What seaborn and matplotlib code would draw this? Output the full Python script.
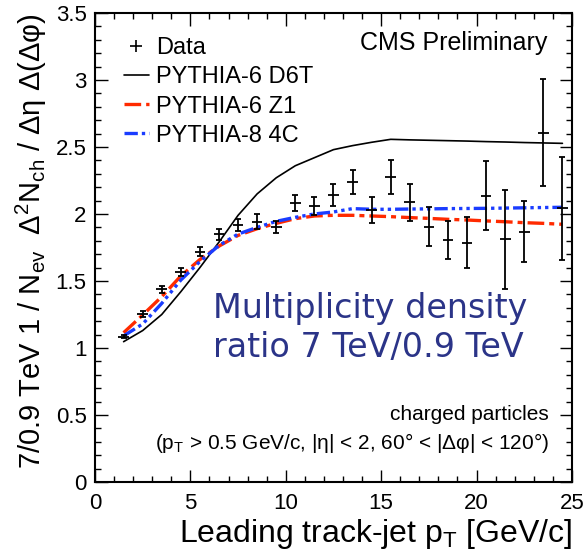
import numpy as np
import pandas as pd
import seaborn as sns
import matplotlib.pyplot as plt
from matplotlib.lines import Line2D
from matplotlib.ticker import MultipleLocator

# leading track-jet pT bin centres [GeV/c]
pt = [1.5, 2.5, 3.5, 4.5, 5.5, 6.5, 7.5, 8.5, 9.5, 10.5, 11.5, 12.5,
      13.5, 14.5, 15.5, 16.5, 17.5, 18.5, 19.5, 20.5, 21.5, 22.5, 23.5, 24.5]

# measured 7/0.9 TeV ratio and its uncertainty
data_y = [1.084, 1.254, 1.438, 1.569, 1.719, 1.848, 1.918, 1.943, 1.900, 2.085,
          2.062, 2.142, 2.241, 2.030, 2.278, 2.087, 1.905, 1.806, 1.786, 2.137,
          1.811, 1.868, 2.607, 2.043]
data_err = [0.01, 0.02, 0.025, 0.03, 0.035, 0.04, 0.045, 0.055, 0.045, 0.06,
            0.066, 0.08, 0.09, 0.10, 0.127, 0.14, 0.145, 0.145, 0.19, 0.26,
            0.37, 0.23, 0.40, 0.385]

# MC tunes
d6t = [1.047, 1.13, 1.25, 1.42, 1.60, 1.79, 1.99, 2.15, 2.27, 2.36, 2.42, 2.48,
       2.51, 2.535, 2.557, 2.553, 2.55, 2.547, 2.544, 2.54, 2.537, 2.533, 2.53, 2.527]
z1 = [1.114, 1.246, 1.383, 1.537, 1.66, 1.76, 1.84, 1.89, 1.93, 1.965, 1.985, 1.99,
      1.99, 1.985, 1.98, 1.973, 1.967, 1.96, 1.955, 1.948, 1.942, 1.935, 1.93, 1.923]
c4 = [1.09, 1.179, 1.333, 1.507, 1.645, 1.765, 1.85, 1.90, 1.945, 1.975, 2.0, 2.015,
      2.04, 2.035, 2.035, 2.037, 2.038, 2.04, 2.041, 2.042, 2.044, 2.046, 2.048, 2.05]

sns.set_style("ticks", {'text.color': 'black', 'axes.labelcolor': 'black',
                        'xtick.color': 'black', 'ytick.color': 'black',
                        'axes.edgecolor': 'black'})
plt.rcParams['font.family'] = ['Liberation Sans', 'DejaVu Sans']
plt.rcParams['mathtext.fontset'] = 'custom'
plt.rcParams['mathtext.rm'] = 'Liberation Sans'
plt.rcParams['mathtext.it'] = 'Liberation Sans:italic'
plt.rcParams['mathtext.bf'] = 'Liberation Sans:bold'

fig = plt.figure(figsize=(5.87, 5.54), dpi=100)
ax = fig.add_axes([0.1618, 0.130, 0.8126, 0.8466])

models = [
    ('PYTHIA-6 D6T', d6t, 'black', '-', 1.2),
    ('PYTHIA-6 Z1', z1, '#ff2a00', (0, (5, 1.5, 1.5, 1.5)), 2.4),
    ('PYTHIA-8 4C', c4, '#1a3cff', (0, (4, 1.2, 1, 1.2, 1, 1.2, 1, 1.2)), 2.4),
]
for name, vals, col, ls, lw in models:
    df = pd.DataFrame({'pt': pt, 'ratio': vals})
    sns.lineplot(data=df, x='pt', y='ratio', ax=ax, color=col, linestyle=ls,
                 linewidth=lw, sort=False, errorbar=None)

# data: vertical bars with small caps, horizontal bars without
ax.errorbar(pt, data_y, yerr=data_err, fmt='none', ecolor='black',
            elinewidth=1.3, capsize=2, capthick=1.3, zorder=5)
ax.errorbar(pt, data_y, xerr=0.28, fmt='none', ecolor='black',
            elinewidth=1.3, capsize=0, zorder=5)

ax.set_xlim(0, 25)
ax.set_ylim(0, 3.5)
ax.xaxis.set_major_locator(MultipleLocator(5))
ax.xaxis.set_minor_locator(MultipleLocator(1))
ax.yaxis.set_major_locator(MultipleLocator(0.5))
ax.yaxis.set_minor_locator(MultipleLocator(0.1))
ax.set_xticks([0, 5, 10, 15, 20, 25])
ax.set_xticklabels(['0', '5', '10', '15', '20', '25'])
ax.set_yticks([0, 0.5, 1, 1.5, 2, 2.5, 3, 3.5])
ax.set_yticklabels(['0', '0.5', '1', '1.5', '2', '2.5', '3', '3.5'])
ax.tick_params(which='both', direction='in', top=True, right=True, labelsize=16)
ax.tick_params(which='major', length=9, width=1)
ax.tick_params(which='minor', length=4.5, width=1)
ax.tick_params(axis='x', pad=8)
ax.tick_params(axis='y', pad=6)
for s in ax.spines.values():
    s.set_linewidth(1.5)

ax.set_xlabel('Leading track-jet p$_{\\rm T}$ [GeV/c]', fontsize=23, loc='right', labelpad=2)
ax.set_ylabel('7/0.9 TeV 1 / N$_{\\rm ev}$  Δ$^{2}$N$_{\\rm ch}$ / Δη Δ(Δφ)',
              fontsize=21, loc='top', labelpad=5)

handles = [Line2D([], [], color='black', marker='+', linestyle='none', markersize=9, markeredgewidth=1.2)]
for name, vals, col, ls, lw in models:
    handles.append(Line2D([], [], color=col, linestyle=ls, linewidth=lw))
ax.legend(handles, ['Data'] + [m[0] for m in models], loc='upper left',
          bbox_to_anchor=(0.041, 0.968), frameon=False, fontsize=17,
          handlelength=1.06, handletextpad=0.3, labelspacing=0.3, borderaxespad=0)

ax.text(0.948, 0.936, 'CMS Preliminary', transform=ax.transAxes, ha='right',
        va='center', fontsize=18)
ax.text(0.247, 0.328, 'Multiplicity density\nratio 7 TeV/0.9 TeV', transform=ax.transAxes,
        ha='left', va='center', fontsize=24, color='#2b3488', family='DejaVu Sans',
        linespacing=1.25)
ax.text(0.952, 0.143, 'charged particles', transform=ax.transAxes, ha='right',
        va='center', fontsize=15)
ax.text(0.952, 0.083, '(p$_{\\rm T}$ > 0.5 GeV/c, |η| < 2, 60° < |Δφ| < 120°)',
        transform=ax.transAxes, ha='right', va='center', fontsize=15)

fig.savefig('out.png', dpi=100)
